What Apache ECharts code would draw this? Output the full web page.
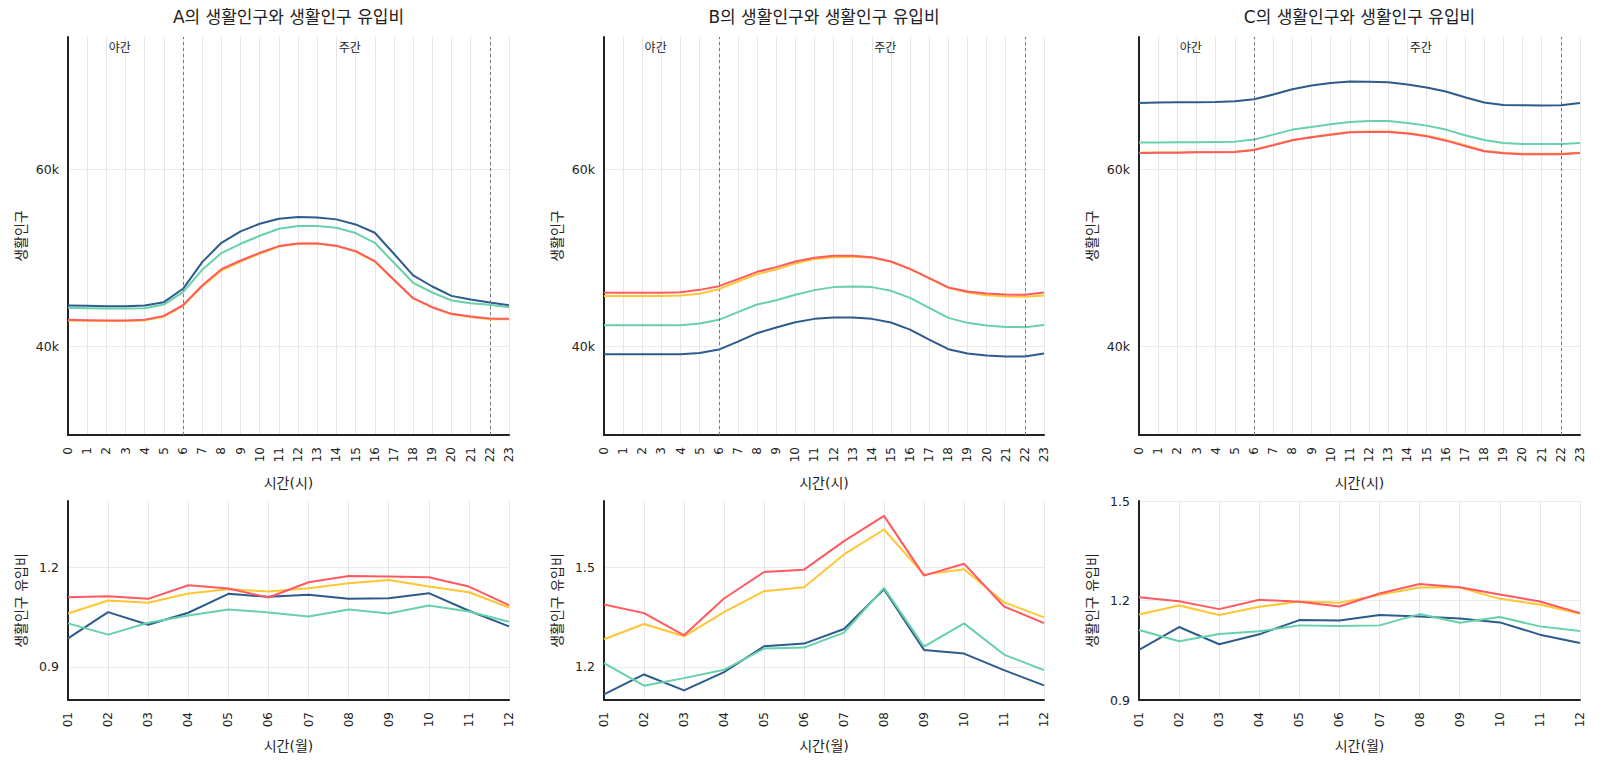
<!DOCTYPE html>
<html>
<head>
<meta charset="utf-8">
<script src="https://cdn.jsdelivr.net/npm/echarts@6/dist/echarts.min.js"></script>
<style>html,body{margin:0;padding:0;background:#fff}#c{width:1609px;height:760px}</style>
</head>
<body>
<div id="c"></div>
<script>
// ---------- data ----------
const hours = [0,1,2,3,4,5,6,7,8,9,10,11,12,13,14,15,16,17,18,19,20,21,22,23];
const months = ['01','02','03','04','05','06','07','08','09','10','11','12'];
const seriesNames = ['S1','S2','S3','S4'];
const titles = ['A의 생활인구와 생활인구 유입비','B의 생활인구와 생활인구 유입비','C의 생활인구와 생활인구 유입비'];
const popTicks = [40000, 60000];
const ratioTicksA = [0.9, 1.2];
const ratioTicksB = [1.2, 1.5];
const ratioTicksC = [0.9, 1.2, 1.5];
const periodLabels = ['야간','주간'];
const periodLabelHours = [2.7, 14.7];
const periodBounds = [6, 22];

// A population (hourly)
const popA_blue   = [44640,44600,44560,44560,44640,45020,46530,49550,51730,53020,53890,54450,54640,54600,54380,53810,52870,50490,48040,46790,45730,45320,44980,44680];
const popA_teal   = [44380,44340,44300,44300,44340,44750,46150,48680,50570,51620,52530,53320,53620,53620,53430,52830,51730,49470,47210,46110,45210,44900,44720,44450];
const popA_yellow = [42950,42920,42900,42900,42960,43380,44600,46800,48600,49600,50500,51300,51620,51640,51380,50720,49600,47500,45450,44400,43650,43330,43100,43080];
const popA_red    = [43020,42980,42940,42940,43020,43470,44680,46900,48750,49730,50600,51360,51660,51660,51400,50790,49660,47550,45470,44450,43700,43390,43170,43130];
// B population
const popB_blue   = [39130,39130,39130,39130,39130,39280,39660,40560,41510,42150,42750,43130,43280,43280,43130,42720,41920,40790,39700,39210,38980,38870,38870,39210];
const popB_teal   = [42410,42410,42410,42410,42410,42600,43020,43890,44750,45240,45850,46380,46720,46790,46720,46300,45510,44380,43240,42680,42380,42220,42190,42450];
const popB_yellow = [45730,45730,45730,45730,45770,45960,46490,47360,48190,48720,49400,49890,50110,50150,50040,49580,48750,47700,46640,46110,45810,45700,45620,45770];
const popB_red    = [46070,46070,46070,46070,46150,46410,46830,47620,48450,48980,49620,50040,50260,50260,50110,49620,48790,47740,46680,46230,46000,45890,45850,46110];
// C population
const popC_blue   = [67550,67590,67630,67630,67660,67740,67960,68490,69100,69510,69810,69960,69930,69890,69620,69280,68830,68190,67590,67320,67280,67250,67280,67550];
const popC_teal   = [63060,63060,63090,63090,63130,63170,63400,63960,64530,64830,65130,65400,65510,65510,65280,64980,64530,63890,63360,63020,62910,62910,62910,63020];
const popC_yellow = [61920,61950,61950,61990,61990,62030,62260,62800,63360,63700,64000,64270,64310,64320,64150,63850,63360,62760,62150,61910,61800,61800,61800,61920];
const popC_red    = [61890,61920,61920,61960,61960,62000,62230,62760,63320,63660,63960,64230,64260,64260,64080,63770,63280,62680,62080,61850,61740,61740,61740,61890];

// A ratio (monthly)
const ratA_blue   = [0.986,1.065,1.027,1.063,1.120,1.111,1.117,1.105,1.107,1.122,1.069,1.022];
const ratA_teal   = [1.031,0.997,1.033,1.055,1.073,1.064,1.052,1.073,1.061,1.085,1.067,1.036];
const ratA_yellow = [1.061,1.100,1.093,1.121,1.134,1.127,1.137,1.152,1.162,1.142,1.125,1.079];
const ratA_red    = [1.110,1.113,1.105,1.146,1.136,1.109,1.155,1.174,1.172,1.170,1.142,1.086];
// B ratio
const ratB_blue   = [1.117,1.177,1.129,1.184,1.262,1.270,1.314,1.434,1.251,1.240,1.190,1.144];
const ratB_teal   = [1.211,1.143,1.166,1.191,1.255,1.258,1.303,1.438,1.261,1.331,1.237,1.190];
const ratB_yellow = [1.283,1.329,1.292,1.365,1.428,1.440,1.539,1.614,1.478,1.494,1.395,1.349];
const ratB_red    = [1.388,1.362,1.295,1.406,1.486,1.493,1.579,1.655,1.475,1.511,1.382,1.332];
// C ratio
const ratC_blue   = [1.051,1.120,1.068,1.098,1.141,1.140,1.156,1.152,1.146,1.134,1.097,1.072];
const ratC_teal   = [1.111,1.077,1.099,1.107,1.125,1.123,1.125,1.159,1.133,1.150,1.122,1.108];
const ratC_yellow = [1.158,1.185,1.156,1.181,1.197,1.193,1.217,1.239,1.239,1.205,1.188,1.160];
const ratC_red    = [1.210,1.198,1.174,1.202,1.196,1.182,1.221,1.250,1.240,1.218,1.197,1.162];

// ---------- layout / style ----------
const COLORS = ['#2d5b8b', '#66d1ab', '#ffc634', '#ff5a5f'];
const FONT = '"DejaVu Sans", "Noto Sans CJK KR", sans-serif';
const colLeft = [68, 604, 1139];
const colWidth = [441, 440, 441];
const TOP_Y = 37, TOP_H = 398, BOT_Y = 501, BOT_H = 199;
const GRIDC = '#e6e6e6';

const popSets = [
  [popA_blue, popA_teal, popA_yellow, popA_red],
  [popB_blue, popB_teal, popB_yellow, popB_red],
  [popC_blue, popC_teal, popC_yellow, popC_red]
];
const ratSets = [
  [ratA_blue, ratA_teal, ratA_yellow, ratA_red],
  [ratB_blue, ratB_teal, ratB_yellow, ratB_red],
  [ratC_blue, ratC_teal, ratC_yellow, ratC_red]
];
const ratRanges = [[0.8, 1.4, ratioTicksA], [1.1, 1.7, ratioTicksB], [0.9, 1.5, ratioTicksC]];

const grid = [], xAxis = [], yAxis = [], series = [], title = [];
const axisLineStyle = { show: true, lineStyle: { color: '#222', width: 2 } };
const nameStyle = { fontFamily: FONT, fontSize: 14, color: '#222' };

for (let c = 0; c < 3; c++) {
  title.push({
    text: titles[c], left: colLeft[c] + colWidth[c] / 2 - 5, top: 3, textAlign: 'center',
    textStyle: { fontFamily: FONT, fontSize: 17, fontWeight: 'normal', color: '#222' }
  });
  grid.push({ left: colLeft[c], top: TOP_Y, width: colWidth[c], height: TOP_H, containLabel: false });
  grid.push({ left: colLeft[c], top: BOT_Y, width: colWidth[c], height: BOT_H, containLabel: false });
  const gi = c * 2, gb = c * 2 + 1;

  xAxis.push({
    type: 'value', gridIndex: gi, min: 0, max: 23, interval: 1,
    name: '시간(시)', nameLocation: 'middle', nameGap: 41, nameTextStyle: nameStyle,
    axisLine: axisLineStyle, axisTick: { show: false },
    axisLabel: { rotate: 90, fontFamily: FONT, fontSize: 12, color: '#222', margin: 12 },
    splitLine: { show: true, lineStyle: { color: GRIDC, width: 1 } }
  });
  xAxis.push({
    type: 'category', gridIndex: gb, data: months, boundaryGap: false,
    name: '시간(월)', nameLocation: 'middle', nameGap: 39, nameTextStyle: nameStyle,
    axisLine: axisLineStyle, axisTick: { show: false },
    axisLabel: { rotate: 90, fontFamily: FONT, fontSize: 12, color: '#222', margin: 12, interval: 0 },
    splitLine: { show: true, lineStyle: { color: GRIDC, width: 1 } }
  });
  yAxis.push({
    type: 'value', gridIndex: gi, min: 30000, max: 75000,
    name: '생활인구', nameLocation: 'middle', nameGap: 40, nameTextStyle: nameStyle,
    axisLine: axisLineStyle,
    axisTick: { show: false, customValues: popTicks },
    axisLabel: { customValues: popTicks, fontFamily: FONT, fontSize: 12.5, color: '#222', margin: 9,
                 formatter: v => (v / 1000) + 'k' },
    splitLine: { show: true, lineStyle: { color: '#ececec', width: 1 } }
  });
  const rr = ratRanges[c];
  yAxis.push({
    type: 'value', gridIndex: gb, min: rr[0], max: rr[1],
    name: '생활인구 유입비', nameLocation: 'middle', nameGap: 40, nameTextStyle: nameStyle,
    axisLine: axisLineStyle,
    axisTick: { show: false, customValues: rr[2] },
    axisLabel: { customValues: rr[2], fontFamily: FONT, fontSize: 12.5, color: '#222', margin: 9,
                 formatter: v => Number(v).toFixed(1) },
    splitLine: { show: true, lineStyle: { color: '#ececec', width: 1 } }
  });

  for (let s = 0; s < 4; s++) {
    const ser = {
      type: 'line', name: seriesNames[s], xAxisIndex: gi, yAxisIndex: gi,
      data: popSets[c][s].map((v, i) => [hours[i], v]),
      showSymbol: false, smooth: false, color: COLORS[s],
      lineStyle: { width: 2, color: COLORS[s] }, z: 3 + s, animation: false
    };
    if (s === 0) {
      ser.markLine = {
        silent: true, symbol: ['none', 'none'], animation: false,
        label: { show: false },
        lineStyle: { type: [3, 3], color: '#777', width: 1 },
        data: periodBounds.map(h => ({ xAxis: h }))
      };
      ser.markPoint = {
        silent: true, animation: false, symbol: 'circle', symbolSize: 0,
        data: periodLabels.map((t, k) => ({
          coord: [periodLabelHours[k], 73700],
          label: { show: true, position: 'inside', formatter: t, fontFamily: FONT, fontSize: 12, color: '#222' }
        }))
      };
    }
    series.push(ser);
    series.push({
      type: 'line', name: seriesNames[s], xAxisIndex: gb, yAxisIndex: gb,
      data: ratSets[c][s], showSymbol: false, color: COLORS[s],
      lineStyle: { width: 2, color: COLORS[s] }, z: 3 + s, animation: false
    });
  }
}

const chart = echarts.init(document.getElementById('c'), null, { renderer: 'svg', width: 1609, height: 760 });
chart.setOption({ backgroundColor: '#fff', animation: false, title, grid, xAxis, yAxis, series });
</script>
</body>
</html>
